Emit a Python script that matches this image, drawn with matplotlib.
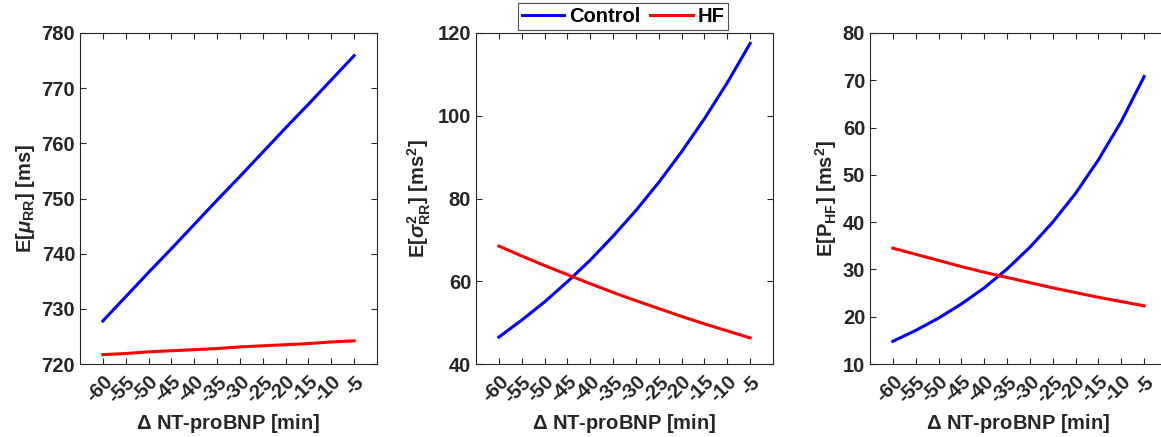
import matplotlib
matplotlib.use("Agg")
import matplotlib.pyplot as plt

plt.rcParams['font.family'] = ['Liberation Sans', 'DejaVu Sans']
plt.rcParams['font.weight'] = 'bold'
plt.rcParams['axes.labelweight'] = 'bold'
plt.rcParams['mathtext.fontset'] = 'custom'
plt.rcParams['mathtext.rm'] = 'Liberation Sans:bold'
plt.rcParams['mathtext.bf'] = 'Liberation Sans:bold'
plt.rcParams['mathtext.it'] = 'Liberation Sans:bold:italic'

delta_min = [-60, -55, -50, -45, -40, -35, -30, -25, -20, -15, -10, -5]

mu_control = [727.8, 732.2, 736.6, 740.9, 745.3, 749.7, 754.0, 758.4, 762.8, 767.1, 771.5, 775.9]
mu_hf = [721.7, 721.9, 722.2, 722.4, 722.6, 722.8, 723.1, 723.3, 723.5, 723.7, 724.0, 724.2]

var_control = [46.5, 50.6, 55.0, 59.9, 65.1, 70.9, 77.1, 83.9, 91.3, 99.3, 108.0, 117.5]
var_hf = [68.5, 66.1, 63.8, 61.6, 59.4, 57.3, 55.3, 53.4, 51.5, 49.7, 48.0, 46.3]

phf_control = [14.8, 17.1, 19.7, 22.7, 26.1, 30.1, 34.7, 40.0, 46.1, 53.2, 61.3, 70.8]
phf_hf = [34.5, 33.2, 31.9, 30.6, 29.4, 28.3, 27.2, 26.1, 25.1, 24.1, 23.2, 22.3]

panels = [
    (mu_control, mu_hf, r'E[$\mu_{\mathrm{RR}}$] [ms]', (720, 780), range(720, 781, 10)),
    (var_control, var_hf, r'E[$\sigma^2_{\mathrm{RR}}$] [ms$^2$]', (40, 120), range(40, 121, 20)),
    (phf_control, phf_hf, r'E[P$_{\mathrm{HF}}$] [ms$^2$]', (10, 80), range(10, 81, 10)),
]

W, H = 1161, 437
fig = plt.figure(figsize=(W / 100, H / 100), dpi=100)
lefts = [80, 476, 870]
axc = '#262626'
fs = 14.5

for left, (ctrl, hf, ylab, ylim, yticks) in zip(lefts, panels):
    ax = fig.add_axes([left / W, (H - 364) / H, 297 / W, 331 / H])
    l1, = ax.plot(delta_min, ctrl, color='#0000ff', lw=2.2, label='Control')
    l2, = ax.plot(delta_min, hf, color='#ff0000', lw=2.2, label='HF')
    ax.set_xlim(-65, 0)
    ax.set_ylim(*ylim)
    ax.set_xticks(delta_min)
    ax.set_yticks(list(yticks))
    ax.set_xticklabels([str(v) for v in delta_min], rotation=45, ha='right',
                       rotation_mode='anchor')
    ax.tick_params(direction='in', top=True, right=True, labelsize=fs,
                   colors=axc, length=4, width=0.8)
    ax.tick_params(axis='x', pad=6)
    for s in ax.spines.values():
        s.set_color(axc)
        s.set_linewidth(0.8)
    ax.set_xlabel(r'$\Delta$ NT-proBNP [min]', fontsize=fs, color=axc, labelpad=4)
    ax.set_ylabel(ylab, fontsize=fs, color=axc, labelpad=3)

leg = fig.legend([l1, l2], ['Control', 'HF'], loc='upper center',
                 bbox_to_anchor=(623 / W, 1 - 3 / H), ncol=2, fontsize=fs,
                 frameon=True, fancybox=False, handlelength=2.1,
                 columnspacing=0.5, handletextpad=0.25, borderpad=0.2,
                 borderaxespad=0)
leg.get_frame().set_edgecolor(axc)
leg.get_frame().set_linewidth(0.8)

fig.savefig('out.png', dpi=100)
